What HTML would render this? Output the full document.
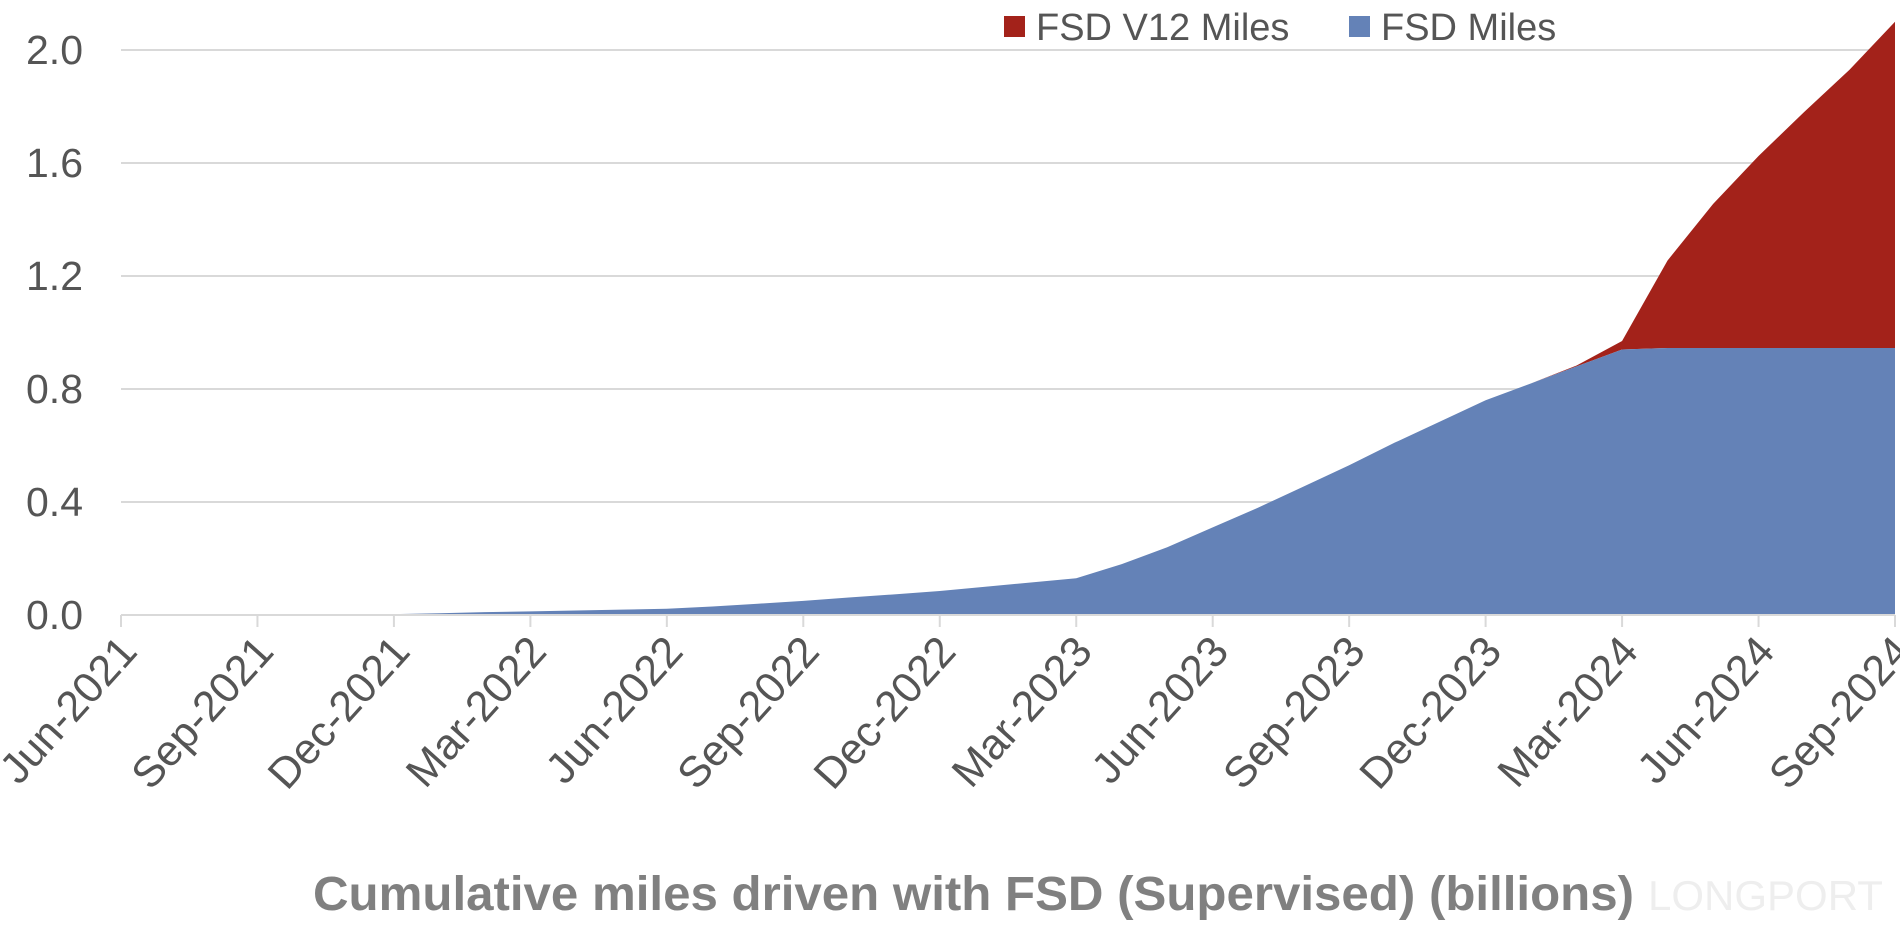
<!DOCTYPE html>
<html><head><meta charset="utf-8"><style>
html,body{margin:0;padding:0;background:#fff;}
svg{display:block;font-family:"Liberation Sans",Arial,sans-serif;}
</style></head><body>
<svg id="chart" width="1900" height="942" viewBox="0 0 1900 942" xmlns="http://www.w3.org/2000/svg">
<g id="grid"></g>
<g id="areas"></g>
<g id="xaxis"></g>
<g id="yaxis"></g>
<g>
  <rect x="1004" y="16" width="21" height="21" fill="#a3221a"/>
  <text x="1036" y="40" font-size="38" fill="#555">FSD V12 Miles</text>
  <rect x="1349" y="16" width="21" height="21" fill="#6482b7"/>
  <text x="1381" y="40" font-size="38" fill="#555">FSD Miles</text>
</g>
<text x="313" y="910" font-size="48" font-weight="bold" fill="#808080" textLength="1321" lengthAdjust="spacingAndGlyphs">Cumulative miles driven with FSD (Supervised) (billions)</text>
<text x="1648" y="910" font-size="42" fill="#eeeeee">LONGPORT</text>
</svg>
<script>
const monthLabels = ["Jun-2021","Sep-2021","Dec-2021","Mar-2022","Jun-2022","Sep-2022","Dec-2022","Mar-2023","Jun-2023","Sep-2023","Dec-2023","Mar-2024","Jun-2024","Sep-2024"];
const yTicks = [0.0,0.4,0.8,1.2,1.6,2.0];
const fsdMiles = [0,0,0,0,0,0.001,0.003,0.006,0.01,0.013,0.016,0.019,0.022,0.03,0.04,0.05,0.062,0.073,0.085,0.1,0.115,0.13,0.18,0.24,0.31,0.38,0.455,0.53,0.61,0.685,0.76,0.82,0.88,0.94,0.945,0.945,0.945,0.945,0.945,0.945];
const v12Miles = [0,0,0,0,0,0,0,0,0,0,0,0,0,0,0,0,0,0,0,0,0,0,0,0,0,0,0,0,0,0,0,0,0.003,0.03,0.31,0.51,0.68,0.835,0.985,1.155];

const NS="http://www.w3.org/2000/svg";
const L=121,R=1895,B=615,T=50;
const nM=fsdMiles.length;
const x=i=>L+(R-L)*i/(nM-1);
const y=v=>B-(B-T)*v/2.0;
function mk(tag,attrs,parent){const e=document.createElementNS(NS,tag);for(const k in attrs)e.setAttribute(k,attrs[k]);parent.appendChild(e);return e;}
const grid=document.getElementById('grid'),areas=document.getElementById('areas'),xa=document.getElementById('xaxis'),ya=document.getElementById('yaxis');
yTicks.forEach(v=>{
  if(v>0){const g=mk('line',{x1:L,x2:R,y1:y(v),y2:y(v),stroke:'#d9d9d9','stroke-width':2},grid);
  
  }
  const t=mk('text',{x:83,y:y(v)+14,'text-anchor':'end','font-size':41,fill:'#555'},ya);
  t.textContent=v.toFixed(1);
  
  
});
let p1='M'+x(0)+','+B;
fsdMiles.forEach((v,i)=>p1+=' L'+x(i)+','+y(v));
p1+=' L'+x(nM-1)+','+B+' Z';
let p2='M'+x(0)+','+y(fsdMiles[0]);
fsdMiles.forEach((v,i)=>p2+=' L'+x(i)+','+y(v+v12Miles[i]));
for(let i=nM-1;i>=0;i--)p2+=' L'+x(i)+','+y(fsdMiles[i]);
p2+=' Z';
const a2=mk('path',{d:p2,fill:'#a3221a'},areas);


const a1=mk('path',{d:p1,fill:'#6482b7'},areas);


const ax=mk('line',{x1:L,x2:R,y1:B,y2:B,stroke:'#d9d9d9','stroke-width':2},xa);


monthLabels.forEach((lab,j)=>{
  const xx=L+(R-L)*j/(monthLabels.length-1);
  const tk=mk('line',{x1:xx,x2:xx,y1:B,y2:B+12,stroke:'#d9d9d9','stroke-width':2},xa);
  
  
  const t=mk('text',{x:xx+18,y:B+38,'text-anchor':'end','font-size':43,fill:'#555',transform:`rotate(-48 ${xx+18} ${B+38})`},xa);
  t.textContent=lab;
  
  
});
</script>
</body></html>
